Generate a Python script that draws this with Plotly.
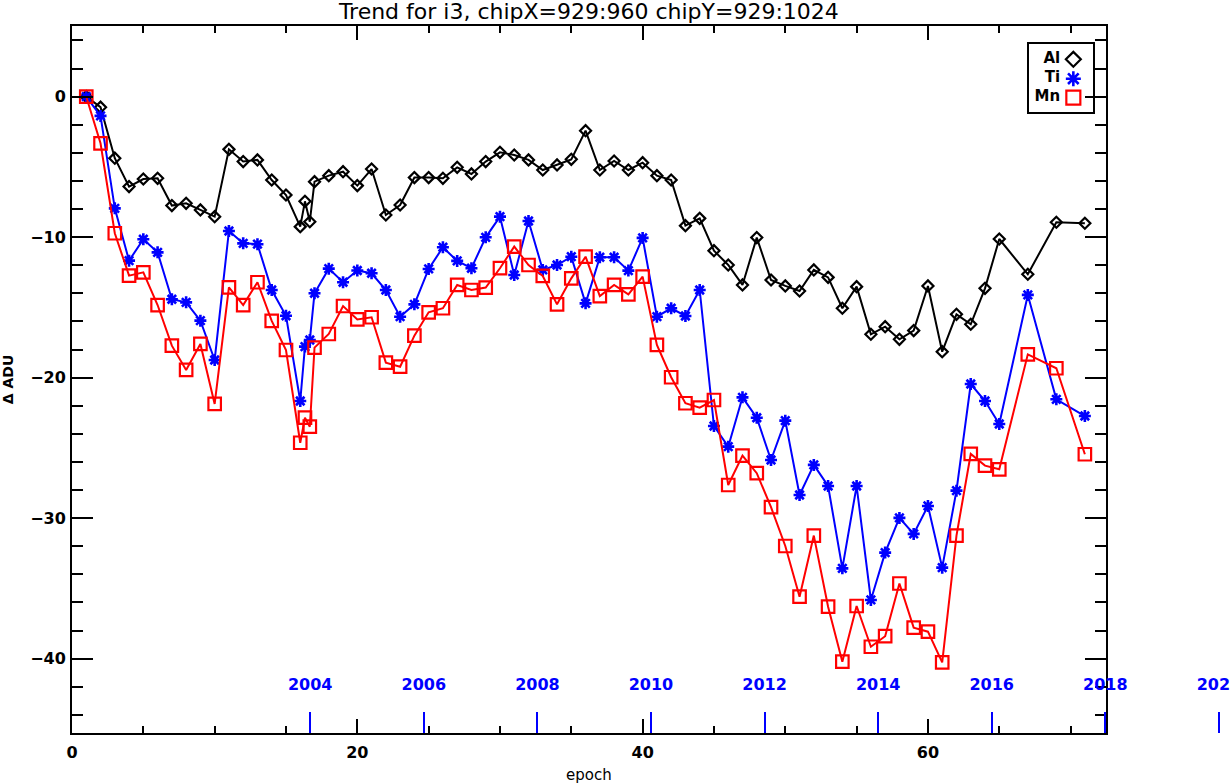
import plotly.graph_objects as go

# ---------------- data ----------------
epochs = [1, 2, 3, 4, 5, 6, 7, 8, 9, 10, 11, 12, 13, 14, 15, 16, 16.33, 16.67,
          17, 18, 19, 20, 21, 22, 23, 24, 25, 26, 27, 28, 29, 30, 31, 32, 33, 34,
          35, 36, 37, 38, 39, 40, 41, 42, 43, 44, 45, 46, 47, 48, 49, 50, 51, 52,
          53, 54, 55, 56, 57, 58, 59, 60, 61, 62, 63, 64, 65, 67, 69, 71]

al = [0, -0.75, -4.38, -6.4, -5.86, -5.81, -7.75, -7.59, -8.06, -8.54, -3.75, -4.62,
      -4.5, -5.93, -7.0, -9.25, -7.45, -8.9, -6.05, -5.62, -5.34, -6.33, -5.15, -8.42,
      -7.71, -5.76, -5.76, -5.81, -5.03, -5.5, -4.62, -3.96, -4.15, -4.5, -5.22, -4.86,
      -4.46, -2.42, -5.22, -4.58, -5.22, -4.7, -5.62, -5.93, -9.18, -8.66, -10.96,
      -11.98, -13.4, -10.03, -13.05, -13.47, -13.83, -12.33, -12.86, -15.06, -13.52,
      -16.91, -16.37, -17.27, -16.65, -13.47, -18.15, -15.49, -16.2, -13.64, -10.13,
      -12.64, -8.94, -9.01]

ti = [0, -1.37, -7.95, -11.67, -10.15, -11.08, -14.42, -14.64, -15.94, -18.74, -9.56,
      -10.44, -10.5, -13.76, -15.59, -21.66, -17.79, -17.32, -13.99, -12.24, -13.21,
      -12.37, -12.57, -13.76, -15.66, -14.78, -12.26, -10.72, -11.69, -12.21, -10.01,
      -8.54, -12.69, -8.85, -12.33, -11.98, -11.39, -14.71, -11.43, -11.43, -12.38,
      -10.05, -15.66, -15.06, -15.61, -13.76, -23.44, -24.91, -21.4, -22.85, -25.86,
      -23.06, -28.35, -26.21, -27.71, -33.57, -27.71, -35.82, -32.45, -29.98, -31.12,
      -29.13, -33.52, -28.04, -20.45, -21.66, -23.3, -14.11, -21.54, -22.73]

mn = [0, -3.32, -9.72, -12.74, -12.5, -14.83, -17.72, -19.45, -17.6, -21.87, -13.57,
      -14.83, -13.21, -15.96, -18.03, -24.63, -22.85, -23.49, -17.86, -16.89, -14.9,
      -15.85, -15.7, -18.93, -19.22, -17.01, -15.35, -15.06, -13.4, -13.76, -13.59,
      -12.21, -10.67, -11.98, -12.76, -14.78, -12.93, -11.39, -14.19, -13.4, -14.07,
      -12.81, -17.67, -19.97, -21.82, -22.13, -21.59, -27.64, -25.55, -26.8, -29.22,
      -31.98, -35.59, -31.24, -36.3, -40.21, -36.25, -39.15, -38.4, -34.65, -37.79,
      -38.08, -40.26, -31.24, -25.43, -26.26, -26.52, -18.34, -19.33, -25.45]

series_names = ["Al", "Ti", "Mn"]
year_ticks = [2004, 2006, 2008, 2010, 2012, 2014, 2016, 2018, 2020]
year_labels = [str(y) for y in year_ticks]

# epoch <-> calendar year relation
YEAR_REF = 2004
EPOCH_AT_YEAR_REF = 16.70
EPOCHS_PER_YEAR = 3.981

# ---------------- layout geometry ----------------
W, H = 1230, 784
ML, MR, MT, MB = 72, 0, 26, 51
PLOT_W = W - ML - MR
PLOT_H = H - MT - MB
X_RIGHT_PX = 1105.7
XDOM = (X_RIGHT_PX - ML) / PLOT_W
X_RANGE = [0, 72.46]
Y_RANGE = [-45.29, 5.03]


def epoch_to_year(e):
    return YEAR_REF + (e - EPOCH_AT_YEAR_REF) / EPOCHS_PER_YEAR


# year axis spans the whole paper width; compute its epoch range from the main axis
epoch_per_paper = (X_RANGE[1] - X_RANGE[0]) / XDOM
year_range = [epoch_to_year(X_RANGE[0]), epoch_to_year(X_RANGE[0] + epoch_per_paper)]

FONT = "DejaVu Sans"
BLUE = "#0000ff"
RED = "#ff0000"
BLACK = "#000000"

styles = {
    "Al": dict(color=BLACK, symbol="diamond-open", size=8.5, lsize=11.5, lw=2.2),
    "Ti": dict(color=BLUE, symbol="asterisk-open", size=10, lsize=12.5, lw=2.6),
    "Mn": dict(color=RED, symbol="square-open", size=12.5, lsize=14, lw=2.2),
}
values = {"Al": al, "Ti": ti, "Mn": mn}

fig = go.Figure()
for name in series_names:
    st = styles[name]
    fig.add_trace(go.Scatter(
        x=epochs, y=values[name], mode="lines+markers", name=name,
        line=dict(color=st["color"], width=2),
        marker=dict(symbol=st["symbol"], size=st["size"], color=st["color"],
                    line=dict(color=st["color"], width=st["lw"])),
        xaxis="x", yaxis="y", showlegend=False,
    ))

# invisible anchor trace so the year axis is drawn (on its own hidden y axis)
fig.add_trace(go.Scatter(x=[year_ticks[0]], y=[0], xaxis="x2", yaxis="y4",
                         mode="markers", marker=dict(opacity=0), hoverinfo="skip",
                         showlegend=False))

# inset legend (label to the left of the symbol, as in IDL)
legend_y = [0.778, 0.492, 0.211]
for name, ly in zip(series_names, legend_y):
    st = styles[name]
    fig.add_trace(go.Scatter(
        x=[0.694], y=[ly], xaxis="x3", yaxis="y3", mode="markers",
        marker=dict(symbol=st["symbol"], size=st["lsize"], color=st["color"],
                    line=dict(color=st["color"], width=st["lw"])),
        hoverinfo="skip", showlegend=False,
    ))
    fig.add_trace(go.Scatter(
        x=[0.49], y=[ly], xaxis="x3", yaxis="y3", mode="text",
        text=[name], textposition="middle left",
        textfont=dict(family=FONT, size=15, color=BLACK, weight="bold"),
        hoverinfo="skip", showlegend=False,
    ))

tickfont = dict(family=FONT, size=16, color=BLACK, weight="bold")

fig.update_layout(
    width=W, height=H,
    margin=dict(l=ML, r=MR, t=MT, b=MB, autoexpand=False),
    paper_bgcolor="white", plot_bgcolor="rgba(0,0,0,0)",
    font=dict(family=FONT, color=BLACK),
    showlegend=False,
    title=dict(text="Trend for i3, chipX=929:960 chipY=929:1024",
               font=dict(family=FONT, size=22, color=BLACK),
               x=XDOM / 2, xref="paper", xanchor="center",
               y=1 - 11 / H, yref="container", yanchor="middle"),
    xaxis=dict(domain=[0, XDOM], range=X_RANGE, tick0=0, dtick=20,
               ticks="inside", ticklen=14, tickwidth=2, tickcolor=BLACK,
               minor=dict(dtick=5, ticks="inside", ticklen=7, tickwidth=2, tickcolor=BLACK),
               showline=True, linewidth=2, linecolor=BLACK, mirror="allticks",
               showgrid=False, zeroline=False, tickfont=tickfont,
               ticklabelstandoff=4, automargin=False,
               title=dict(text="epoch", font=dict(family=FONT, size=15, color=BLACK),
                          standoff=8)),
    yaxis=dict(domain=[0, 1], range=Y_RANGE, tick0=0, dtick=10,
               ticks="inside", ticklen=21, tickwidth=2, tickcolor=BLACK,
               minor=dict(dtick=2, ticks="inside", ticklen=10.5, tickwidth=2, tickcolor=BLACK),
               showline=True, linewidth=2, linecolor=BLACK, mirror="allticks",
               showgrid=False, zeroline=False, tickfont=tickfont,
               ticklabelstandoff=1, automargin=False,
               title=dict(text="Δ ADU", font=dict(family=FONT, size=14, color=BLACK,
                                                  weight="bold"),
                          standoff=17)),
    xaxis2=dict(domain=[0, 1], range=year_range, anchor="free", position=0,
                side="top", tickmode="array", tickvals=year_ticks, ticktext=year_labels,
                ticks="outside", ticklen=21, tickwidth=2, tickcolor=BLUE,
                tickfont=dict(family=FONT, size=16, color=BLUE, weight="bold"),
                ticklabelstandoff=16, ticklabeloverflow="allow", automargin=False,
                showline=False, showgrid=False, zeroline=False),
    yaxis4=dict(domain=[0, 1], range=[-1, 1], anchor="x2", visible=False,
                showgrid=False, zeroline=False),
    xaxis3=dict(domain=[0.8262, 0.8817], range=[0, 1], anchor="y3",
                showline=True, mirror=True, linewidth=2, linecolor=BLACK,
                showticklabels=False, ticks="", showgrid=False, zeroline=False),
    yaxis3=dict(domain=[0.8784, 0.9741], range=[0, 1], anchor="x3",
                showline=True, mirror=True, linewidth=2, linecolor=BLACK,
                showticklabels=False, ticks="", showgrid=False, zeroline=False),
)

fig.write_html("out.html")
